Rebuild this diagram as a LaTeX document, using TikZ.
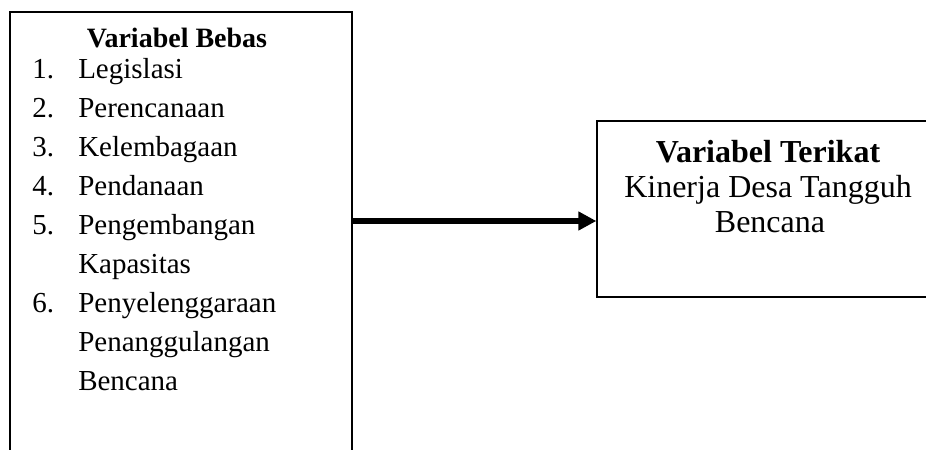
\documentclass[tikz,border=0pt]{standalone}
\usepackage{fontspec}
\setmainfont{Liberation Serif}
\usetikzlibrary{arrows.meta}
\tikzset{
  frame/.style={line width=1.5pt, black},
  num/.style={anchor=base west, inner sep=0pt, font=\fontsize{21.75pt}{26pt}\selectfont},
  item/.style={anchor=base west, inner sep=0pt, font=\fontsize{21.75pt}{26pt}\selectfont},
  lhead/.style={anchor=base, inner sep=0pt, font=\fontsize{21pt}{25pt}\selectfont\bfseries},
  rhead/.style={anchor=base, inner sep=0pt, font=\fontsize{24pt}{28pt}\selectfont\bfseries},
  rtext/.style={anchor=base, inner sep=0pt, font=\fontsize{24pt}{28pt}\selectfont},
  link/.style={line width=4.2pt, -{Triangle[length=13.5pt,width=13.5pt]}, shorten >=0.5pt}
}
\begin{document}
\begin{tikzpicture}[x=0.75pt,y=-0.75pt]
\useasboundingbox (0,0) rectangle (926,450);
% left box (open at the bottom)
\draw[frame] (10,460) -- (10,12) -- (352,12) -- (352,460);
% right box (continues past the right edge)
\draw[frame] (935,121) -- (597,121) -- (597,297) -- (935,297);
\coordinate (bebasR) at (352,221);
\coordinate (terikatL) at (597,221);
% left texts
\node[lhead] (hb) at (177,47) {Variabel Bebas};
\node[num] (n1) at (32,78) {1.};
\node[item] (t1) at (78,78) {Legislasi};
\node[num] (n2) at (32,117) {2.};
\node[item] (t2) at (78,117) {Perencanaan};
\node[num] (n3) at (32,156) {3.};
\node[item] (t3) at (78,156) {Kelembagaan};
\node[num] (n4) at (32,195) {4.};
\node[item] (t4) at (78,195) {Pendanaan};
\node[num] (n5) at (32,234) {5.};
\node[item] (t5) at (78,234) {Pengembangan};
\node[item] (t5b) at (78,273) {Kapasitas};
\node[num] (n6) at (32,312) {6.};
\node[item] (t6) at (78,312) {Penyelenggaraan};
\node[item] (t6b) at (78,351) {Penanggulangan};
\node[item] (t6c) at (78,390) {Bencana};
% right texts
\node[rhead] (ht) at (768,162) {Variabel Terikat};
\node[rtext] (k1) at (768,197) {Kinerja Desa Tangguh};
\node[rtext] (k2) at (770,232) {Bencana};
% connector
\draw[link] (bebasR) -- (terikatL);
\end{tikzpicture}
\end{document}
